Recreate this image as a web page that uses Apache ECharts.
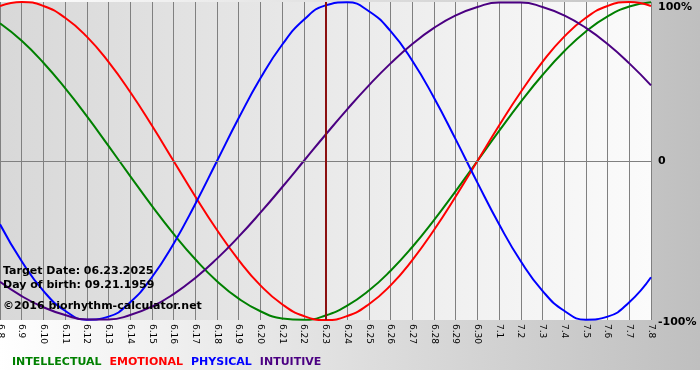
<!DOCTYPE html>
<html>
<head>
<meta charset="utf-8">
<script src="https://cdn.jsdelivr.net/npm/echarts@6/dist/echarts.min.js"></script>
<style>
  html, body { margin: 0; padding: 0; background: #ffffff; }
  #chart { width: 700px; height: 370px; }
</style>
</head>
<body>
<div id="chart"></div>
<script>
// Day labels (June 8 .. July 8)
const days = ['6.8','6.9','6.10','6.11','6.12','6.13','6.14','6.15','6.16','6.17','6.18','6.19','6.20','6.21','6.22','6.23','6.24','6.25','6.26','6.27','6.28','6.29','6.30','7.1','7.2','7.3','7.4','7.5','7.6','7.7','7.8'];
const targetDay = '6.23';

// Biorhythm values in percent, read per day
const intellectual = [86.6, 75.6, 61.8, 45.8, 28.2, 9.5, -9.5, -28.2, -45.8, -61.8, -75.6, -86.6, -94.5, -99.0, -99.9, -97.2, -91.0, -81.5, -69.0, -54.1, -37.2, -18.9, 0, 18.9, 37.2, 54.1, 69.0, 81.5, 91.0, 97.2, 99.9];
const emotional = [97.5, 100, 97.5, 90.1, 78.2, 62.3, 43.4, 22.3, 0, -22.3, -43.4, -62.3, -78.2, -90.1, -97.5, -100, -97.5, -90.1, -78.2, -62.3, -43.4, -22.3, 0, 22.3, 43.4, 62.3, 78.2, 90.1, 97.5, 100, 97.5];
const physical = [-39.8, -63.1, -81.7, -94.2, -99.8, -97.9, -88.8, -73.1, -52.0, -27.0, 0, 27.0, 52.0, 73.1, 88.8, 97.9, 99.8, 94.2, 81.7, 63.1, 39.8, 13.6, -13.6, -39.8, -63.1, -81.7, -94.2, -99.8, -97.9, -88.8, -73.1];
const intuitive = [-76.0, -85.0, -92.0, -96.9, -99.7, -99.7, -96.9, -91.6, -83.7, -73.6, -61.4, -47.6, -32.5, -16.5, 0, 16.5, 32.5, 47.6, 61.4, 73.6, 83.7, 91.6, 96.9, 99.7, 99.7, 96.9, 91.6, 83.7, 73.6, 61.4, 47.6];

const seriesNames = ['INTELLECTUAL', 'EMOTIONAL', 'PHYSICAL', 'INTUITIVE'];
const colors = ['#008000', '#ff0000', '#0000ff', '#4b0082'];
const infoLines = ['Target Date: 06.23.2025', 'Day of birth: 09.21.1959', '\u00a92016 biorhythm-calculator.net'];

const FONT = 'DejaVu Sans';
const chart = echarts.init(document.getElementById('chart'), null, { renderer: 'canvas' });

const lineSeries = (name, data, color, extra) => Object.assign({
  name: name,
  type: 'line',
  data: data,
  smooth: true,
  symbol: 'none',
  lineStyle: { color: color, width: 2 },
  itemStyle: { color: color },
  animation: false
}, extra || {});

const option = {
  animation: false,
  backgroundColor: new echarts.graphic.LinearGradient(0, 0, 1, 0, [
    { offset: 0, color: '#ffffff' },
    { offset: 1, color: '#bfbfbf' }
  ]),
  grid: {
    left: 0, right: 49, top: 2, bottom: 50,
    outerBoundsMode: 'none',
    containLabel: false,
    show: true,
    borderWidth: 0,
    backgroundColor: new echarts.graphic.LinearGradient(0, 0, 1, 0, [
      { offset: 0, color: '#d8d8d8' },
      { offset: 1, color: '#fbfbfb' }
    ])
  },
  legend: {
    left: 2, top: 352,
    icon: 'rect',
    itemWidth: 0, itemHeight: 0,
    itemGap: 3,
    selectedMode: false,
    textStyle: { fontFamily: FONT, fontWeight: 'bold', fontSize: 11 },
    data: seriesNames.map((n, i) => ({ name: n, textStyle: { color: colors[i] } }))
  },
  xAxis: {
    type: 'category',
    data: days,
    boundaryGap: false,
    axisLine: { show: true, lineStyle: { color: '#808080', width: 1 } },
    axisTick: { show: true, interval: 0, length: 3, lineStyle: { color: '#808080' } },
    axisLabel: { interval: 0, rotate: -90, fontFamily: FONT, fontSize: 9, color: '#000', margin: 4 },
    splitLine: { show: true, interval: 0, lineStyle: { color: '#808080', width: 1 } }
  },
  yAxis: {
    type: 'value',
    position: 'right',
    min: -100, max: 100, interval: 100,
    axisLine: { show: false },
    axisTick: { show: false },
    splitLine: { show: false },
    axisLabel: {
      margin: 7,
      color: '#000',
      fontFamily: FONT, fontWeight: 'bold', fontSize: 11,
      formatter: function (v) {
        if (v === 100) return '{t|100%}';
        if (v === -100) return '{b|-100%}';
        return '{m|0}';
      },
      rich: {
        t: { fontFamily: FONT, fontWeight: 'bold', fontSize: 11, color: '#000', padding: [11, 0, 0, 0] },
        m: { fontFamily: FONT, fontWeight: 'bold', fontSize: 11, color: '#000' },
        b: { fontFamily: FONT, fontWeight: 'bold', fontSize: 11, color: '#000', padding: [4, 0, 0, 0] }
      }
    }
  },
  graphic: infoLines.map((t, i) => ({
    type: 'text',
    left: 3,
    top: [266, 280, 301][i],
    z: 100,
    style: { text: t, fill: '#000', font: 'bold 11px "' + FONT + '"' }
  })),
  series: [
    lineSeries(seriesNames[0], intellectual, colors[0], {
      markLine: {
        silent: true, symbol: 'none', label: { show: false },
        lineStyle: { color: '#808080', width: 1, type: 'solid' },
        data: [{ yAxis: 0 }]
      }
    }),
    lineSeries(seriesNames[1], emotional, colors[1]),
    lineSeries(seriesNames[2], physical, colors[2]),
    lineSeries(seriesNames[3], intuitive, colors[3], {
      markLine: {
        silent: true, symbol: 'none', label: { show: false },
        lineStyle: { color: '#8b1010', width: 2, type: 'solid' },
        data: [{ xAxis: targetDay }]
      }
    })
  ]
};
chart.setOption(option);
</script>
</body>
</html>
